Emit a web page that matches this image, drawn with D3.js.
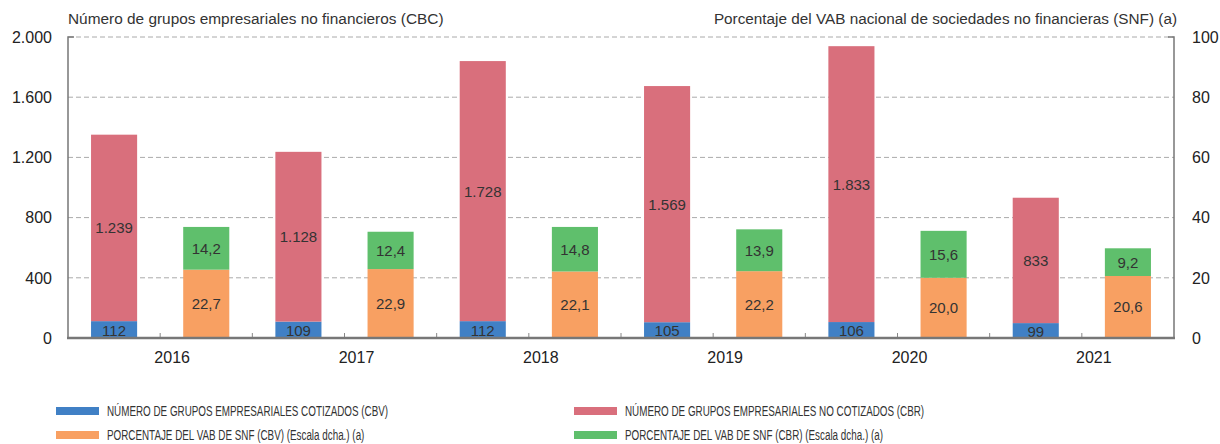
<!DOCTYPE html>
<html><head><meta charset="utf-8">
<script src="https://cdn.jsdelivr.net/npm/d3@7"></script>
<style>
body{margin:0;background:#fff;}
svg{font-family:"Liberation Sans",Arial,Helvetica,sans-serif;}
</style></head>
<body><svg id="c" width="1220" height="444"></svg>
<script>
const years = ["2016","2017","2018","2019","2020","2021"];
const cotizados = [112,109,112,105,106,99];
const noCotizados = [1239,1128,1728,1569,1833,833];
const pctCBV = [22.7,22.9,22.1,22.2,20.0,20.6];
const pctCBR = [14.2,12.4,14.8,13.9,15.6,9.2];
const leftTicks = [0,400,800,1200,1600,2000];
const rightTicks = [0,20,40,60,80,100];
const leftTitle = "Número de grupos empresariales no financieros (CBC)";
const rightTitle = "Porcentaje del VAB nacional de sociedades no financieras (SNF) (a)";
const legendItems = [
  {label:"NÚMERO DE GRUPOS EMPRESARIALES COTIZADOS (CBV)", color:"#4080c5"},
  {label:"NÚMERO DE GRUPOS EMPRESARIALES NO COTIZADOS (CBR)", color:"#d96f7c"},
  {label:"PORCENTAJE DEL VAB DE SNF (CBV) (Escala dcha.) (a)", color:"#f8a062"},
  {label:"PORCENTAJE DEL VAB DE SNF (CBR) (Escala dcha.) (a)", color:"#5fbf6c"}
];
const colors = {cbv:"#4080c5", cbr:"#d96f7c", pcbv:"#f8a062", pcbr:"#5fbf6c"};

const loc = d3.formatLocale({decimal:",", thousands:".", grouping:[3], currency:["","€"]});
const fInt = loc.format(",d");
const fPct = loc.format(",.1f");

const svg = d3.select("#c");
const L = 68, R = 1174, T = 37, B = 338;
const x0 = d3.scaleBand().domain(years).range([L,R]).padding(0);
const x1 = d3.scaleBand().domain(["n","p"]).range([0,x0.bandwidth()]).padding(0);
const yL = d3.scaleLinear().domain([0,2000]).range([B,T]);
const yR = d3.scaleLinear().domain([0,100]).range([B,T]);
const txt = "#333";

// gridlines
svg.append("g").selectAll("line").data(leftTicks.filter(d=>d>0)).join("line")
  .attr("x1",L).attr("x2",R).attr("y1",d=>yL(d)).attr("y2",d=>yL(d))
  .attr("stroke","#aaa").attr("stroke-width",1).attr("stroke-dasharray","5,3");

const bw = x1.bandwidth()/2;
const bx = (yr,k)=> x0(yr)+x1(k)+(x1.bandwidth()-bw)/2;

const g = svg.append("g");
years.forEach((yr,i)=>{
  g.append("rect").attr("x",bx(yr,"n")).attr("width",bw)
    .attr("y",yL(cotizados[i])).attr("height",yL(0)-yL(cotizados[i])).attr("fill",colors.cbv);
  g.append("rect").attr("x",bx(yr,"n")).attr("width",bw)
    .attr("y",yL(cotizados[i]+noCotizados[i])).attr("height",yL(cotizados[i])-yL(cotizados[i]+noCotizados[i])).attr("fill",colors.cbr);
  g.append("rect").attr("x",bx(yr,"p")).attr("width",bw)
    .attr("y",yR(pctCBV[i])).attr("height",yR(0)-yR(pctCBV[i])).attr("fill",colors.pcbv);
  g.append("rect").attr("x",bx(yr,"p")).attr("width",bw)
    .attr("y",yR(pctCBV[i]+pctCBR[i])).attr("height",yR(pctCBV[i])-yR(pctCBV[i]+pctCBR[i])).attr("fill",colors.pcbr);
  const cx1 = bx(yr,"n")+bw/2, cx2 = bx(yr,"p")+bw/2;
  const lab = (x,y,t)=> g.append("text").attr("x",x).attr("y",y).attr("dy","0.36em")
    .attr("text-anchor","middle").attr("font-size",15).attr("fill",txt).text(t);
  lab(cx1,(yL(0)+yL(cotizados[i]))/2+1,fInt(cotizados[i]));
  lab(cx1,(yL(cotizados[i])+yL(cotizados[i]+noCotizados[i]))/2,fInt(noCotizados[i]));
  lab(cx2,(yR(0)+yR(pctCBV[i]))/2,fPct(pctCBV[i]));
  lab(cx2,(yR(pctCBV[i])+yR(pctCBV[i]+pctCBR[i]))/2,fPct(pctCBR[i]));
});

// x ticks at band boundaries
const bounds = [];
years.forEach(yr=>{ bounds.push(x0(yr)+x1("p")); bounds.push(x0(yr)+x0.bandwidth()); });
svg.append("g").selectAll("line").data(bounds.slice(0,-1)).join("line")
  .attr("x1",d=>d).attr("x2",d=>d).attr("y1",B).attr("y2",B-5)
  .attr("stroke","#888").attr("stroke-width",1);

// axes lines
const ax = svg.append("g").attr("stroke","#777").attr("fill","none");
ax.append("path").attr("d",`M${L+6},${T}H${L}V${B}`).attr("stroke-width",1.5);
ax.append("path").attr("d",`M${R-6},${T}H${R}V${B}`).attr("stroke-width",1.5);
ax.append("line").attr("x1",L-1).attr("x2",R+1).attr("y1",B).attr("y2",B).attr("stroke-width",2.5);

// tick labels
svg.append("g").selectAll("text").data(leftTicks).join("text")
  .attr("x",52).attr("y",d=>yL(d)).attr("dy","0.36em").attr("text-anchor","end")
  .attr("font-size",16).attr("fill","#222").text(d=>fInt(d));
svg.append("g").selectAll("text").data(rightTicks).join("text")
  .attr("x",1192).attr("y",d=>yR(d)).attr("dy","0.36em").attr("text-anchor","start")
  .attr("font-size",16).attr("fill","#222").text(d=>d);

// year labels
svg.append("g").selectAll("text").data(years).join("text")
  .attr("x",d=>x0(d)+x1("p")+12).attr("y",363).attr("text-anchor","middle")
  .attr("font-size",16).attr("fill","#222").text(d=>d);

// titles
svg.append("text").attr("x",L).attr("y",24).attr("font-size",15.4).attr("fill","#333").text(leftTitle);
svg.append("text").attr("x",R+3).attr("y",24).attr("text-anchor","end").attr("font-size",15.3).attr("fill","#333").text(rightTitle);

// legend (condensed text)
const lg = svg.append("g");
const lx = [56,574], ly = [411,435];
legendItems.forEach((it,i)=>{
  const col = i%2, row = Math.floor(i/2);
  lg.append("rect").attr("x",lx[col]).attr("y",ly[row]-4).attr("width",43).attr("height",8).attr("fill",it.color);
  lg.append("text").attr("transform",`translate(${lx[col]+51},${ly[row]}) scale(0.68,1)`)
    .attr("dy","0.33em").attr("font-size",14.5).attr("fill","#333").text(it.label);
});
</script></body></html>
